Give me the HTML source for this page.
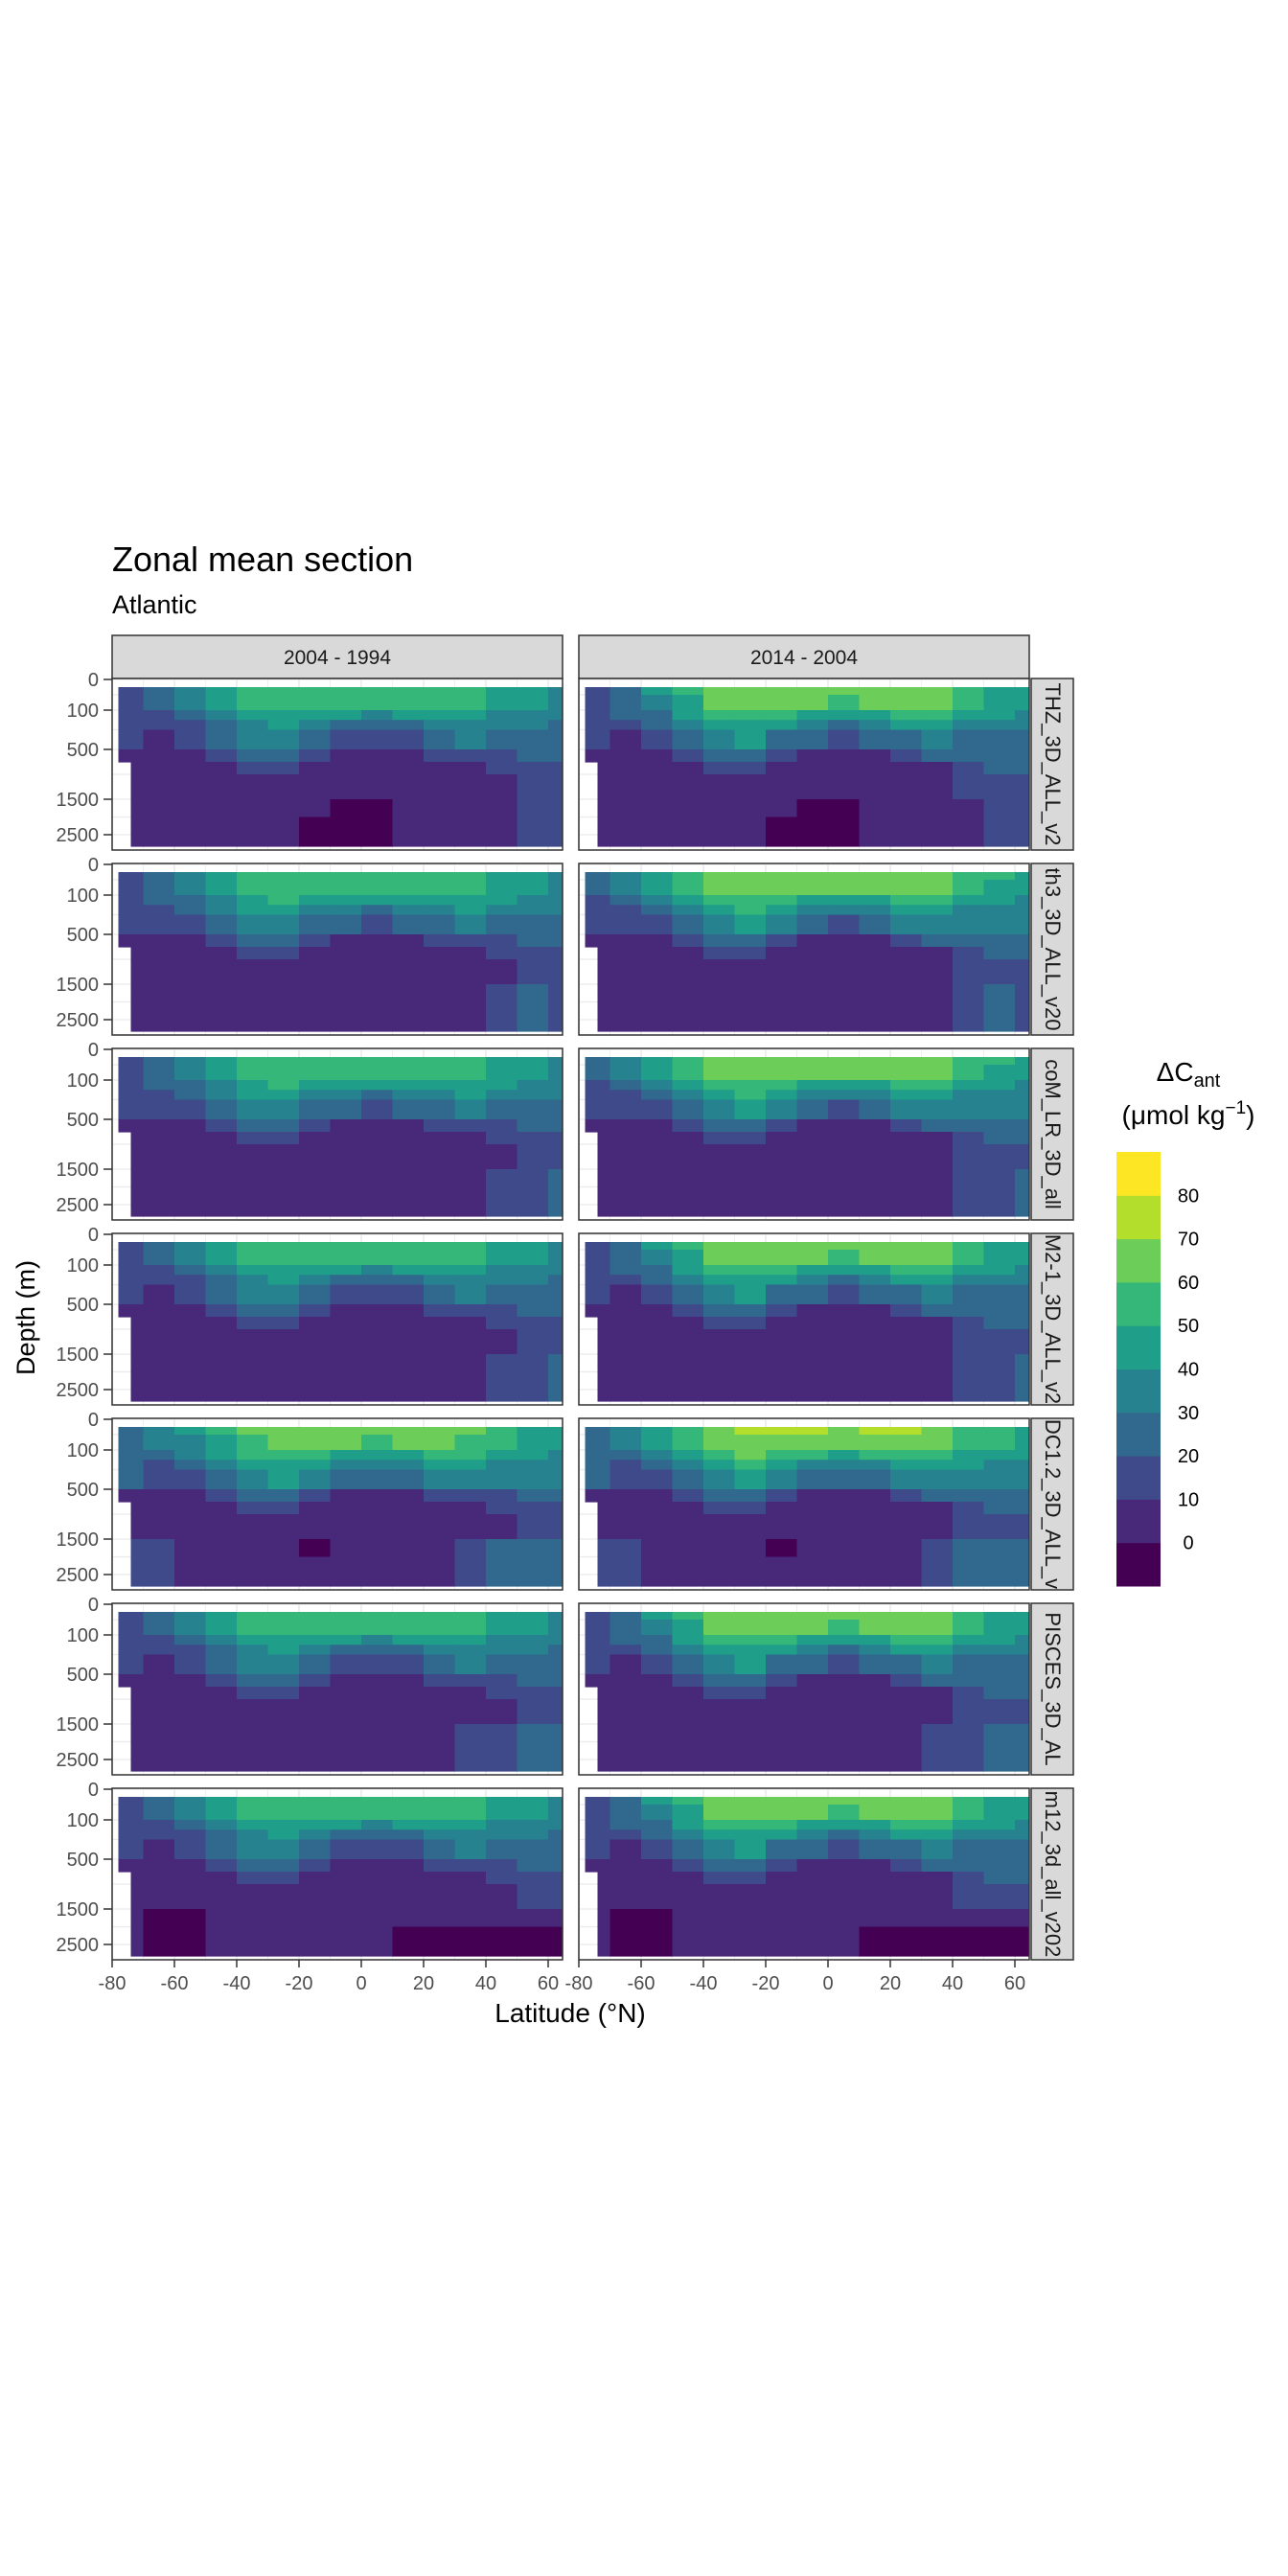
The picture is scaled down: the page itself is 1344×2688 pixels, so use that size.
<!DOCTYPE html>
<html><head><meta charset="utf-8"><style>
html,body{margin:0;padding:0;background:#fff}
svg{display:block}
text{font-family:"Liberation Sans",Arial,sans-serif}
</style></head><body>
<svg id="chart" width="1344" height="2688" viewBox="0 0 1344 2688" xmlns="http://www.w3.org/2000/svg">
<text x="117" y="596" font-size="36" fill="#000">Zonal mean section</text>
<text x="117" y="640" font-size="27" fill="#000">Atlantic</text>
<text transform="translate(36,1375) rotate(-90)" text-anchor="middle" font-size="27" fill="#000">Depth (m)</text>
<text x="595" y="2110" text-anchor="middle" font-size="28" fill="#000">Latitude (°N)</text>
<g id="panels"></g>
<g id="legend">
<text x="1240" y="1128" text-anchor="middle" font-size="28" fill="#000">ΔC<tspan font-size="20" dy="6">ant</tspan></text>
<text x="1240" y="1173" text-anchor="middle" font-size="28" fill="#000">(μmol kg<tspan font-size="19" dy="-11">−1</tspan><tspan dy="11">)</tspan></text>
</g>
</svg>
<script>
// ---- data ----
const periods = ["2004 - 1994", "2014 - 2004"];
const models = ["THZ_3D_ALL_v2", "th3_3D_ALL_v20", "coM_LR_3D_all", "M2-1_3D_ALL_v2", "DC1.2_3D_ALL_v", "PISCES_3D_AL", "m12_3d_all_v202"];
const latEdges = [-78,-70,-60,-50,-40,-30,-20,-10,0,10,20,30,40,50,60,65];
const depthEdges = [25,50,100,200,300,500,750,1000,1500,2000,2500,3000];
const levelBreaks = [0,10,20,30,40,50,60,70,80];
const levelColors = ["#440154","#482878","#3E4A89","#31688E","#26828E","#1F9E89","#35B779","#6DCD59","#B4DE2C","#FDE725"];
const legendLabels = ["80","70","60","50","40","30","20","10","0"];
const xTicks = [-80,-60,-40,-20,0,20,40,60];
const yTicks = [0,100,500,1500,2500];
const base1 = [
[15,25,35,45,55,55,55,55,55,55,55,55,45,42,35],
[15,25,32,42,52,55,55,55,52,55,55,52,45,40,35],
[15,18,25,35,45,48,45,42,38,42,45,45,38,35,32],
[15,12,18,28,38,42,35,28,25,28,35,38,32,30,28],
[15,8,12,20,30,35,25,18,15,18,25,30,25,25,25],
[8,5,8,12,22,25,15,8,7,8,12,18,18,22,22],
[5,5,5,8,12,12,8,6,5,6,7,8,12,18,18],
[5,5,5,5,7,7,6,5,5,5,5,6,9,15,15],
[5,5,5,5,5,5,4,-2,-2,5,5,5,8,12,14],
[5,5,5,5,5,5,-2,-3,-2,4,5,5,7,12,12],
[5,5,5,5,5,5,-3,-3,-3,3,5,5,6,12,12]];
const base2 = [
[18,28,40,52,62,65,65,65,62,65,65,62,52,48,40],
[18,28,38,48,60,63,62,62,58,62,63,60,52,46,40],
[16,20,28,40,52,55,50,46,42,46,52,52,44,40,36],
[15,14,20,32,44,48,40,32,28,32,40,44,36,34,32],
[15,9,14,24,34,40,28,20,16,20,28,34,28,28,28],
[9,6,9,14,25,28,17,9,8,9,14,20,20,24,24],
[6,5,6,9,14,14,9,7,6,7,8,9,14,20,20],
[5,5,5,6,8,8,7,6,5,6,6,7,11,17,17],
[5,5,5,5,6,6,4,-2,-2,5,5,6,9,14,15],
[5,5,5,5,5,5,-2,-3,-2,4,5,5,8,13,14],
[5,5,5,5,5,5,-3,-3,-3,3,5,5,7,12,13]];
const surfaceShift = [0,3,2,0,5,0,0];
const deepOverride = [
null,
[[5,5,5,5,5,5,5,5,5,5,5,8,15,22,15],[5,5,5,5,5,5,5,5,5,5,5,8,15,22,15],[5,5,5,5,5,5,5,5,5,5,5,8,15,22,15]],
[[5,5,5,5,5,5,5,5,5,5,5,8,12,18,22],[5,5,5,5,5,5,5,5,5,5,5,8,12,18,22],[5,5,5,5,5,5,5,5,5,5,5,8,12,18,22]],
[[5,5,5,5,5,5,5,5,5,5,5,5,12,15,25],[5,5,5,5,5,5,5,5,5,5,5,5,12,15,25],[5,5,5,5,5,5,5,5,5,5,5,5,12,15,25]],
[[12,12,8,5,5,5,-2,5,5,5,8,15,22,22,20],[12,12,8,5,5,5,5,5,5,5,8,15,22,22,20],[12,12,8,5,5,5,5,5,5,5,8,15,22,22,20]],
[[5,5,5,5,5,5,5,5,5,5,5,12,18,22,22],[5,5,5,5,5,5,5,5,5,5,5,12,18,22,22],[5,5,5,5,5,5,5,5,5,5,5,12,18,22,22]],
[[5,-2,-2,5,5,5,5,5,5,5,5,5,5,5,5],[5,-2,-2,3,5,5,5,5,5,-2,-2,-2,-2,-2,-2],[5,-2,-2,3,5,5,5,5,5,-2,-2,-2,-2,-2,-2]]
];
// ---- layout / scales ----
const NS = "http://www.w3.org/2000/svg";
const panelLeft = [117, 604], panelW = 470;
const rowTop0 = 708, rowPitch = 193, rowH = 179;
const depthPts = [0,100,500,1500,2500,3000], depthOff = [1,33,74,126,163,175];
function xs(p, lat){ return panelLeft[p] + (lat + 80) * 3.25; }
function ys(r, d){
  const top = rowTop0 + r*rowPitch;
  for(let i=1;i<depthPts.length;i++){
    if(d<=depthPts[i]){const t=(d-depthPts[i-1])/(depthPts[i]-depthPts[i-1]);return top+depthOff[i-1]+t*(depthOff[i]-depthOff[i-1]);}
  }
  return top+depthOff[depthOff.length-1];
}
function colorFor(v){ let k=0; for(const b of levelBreaks){ if(v>=b) k++; } return levelColors[k]; }
function mk(tag, attrs, parent){ const e=document.createElementNS(NS,tag); for(const k in attrs) e.setAttribute(k,attrs[k]); parent.appendChild(e); return e; }
const g = document.getElementById("panels");
const defs = mk("defs",{},g);
periods.forEach((p,pi)=>{
  const s = mk("rect",{x:panelLeft[pi],y:663,width:panelW,height:45,fill:"#d9d9d9",stroke:"#333","stroke-width":1.5},g);
  
  
  const t = mk("text",{x:panelLeft[pi]+panelW/2,y:693,"text-anchor":"middle","font-size":21,fill:"#1a1a1a"},g);
  t.textContent = p;
  
  
});
models.forEach((m,r)=>{
  const top = rowTop0 + r*rowPitch;
  for(let p=0;p<2;p++){
    const pg = mk("g",{},g);
    
    
    for(let lat=-80;lat<=60;lat+=10){ mk("line",{x1:xs(p,lat),x2:xs(p,lat),y1:top,y2:top+rowH,stroke:"#ebebeb","stroke-width":lat%20===0?1.6:0.8},pg); }
    [0,50,100,300,500,1000,1500,2000,2500].forEach(d=>mk("line",{x1:panelLeft[p],x2:panelLeft[p]+panelW,y1:ys(r,d),y2:ys(r,d),stroke:"#ebebeb","stroke-width":1.2},pg));
    const base = p===0?base1:base2;
    for(let i=0;i<depthEdges.length-1;i++){
      for(let j=0;j<latEdges.length-1;j++){
        let v = base[i][j];
        if(i<=4) v += surfaceShift[r];
        if(i>=8 && deepOverride[r]) v = deepOverride[r][i-8][j];
        let lat0 = latEdges[j];
        if(j===0 && depthEdges[i]>=750) lat0 = -74;
        const x0 = xs(p,lat0), x1 = Math.min(xs(p,latEdges[j+1]), panelLeft[p]+panelW-1);
        const y0 = ys(r,depthEdges[i]), y1 = ys(r,depthEdges[i+1]);
        const c = mk("rect",{x:x0,y:y0,width:x1-x0+0.6,height:y1-y0+0.6,fill:colorFor(v)},pg);
        
        
      }
    }
    const b = mk("rect",{x:panelLeft[p],y:top,width:panelW,height:rowH,fill:"none",stroke:"#333","stroke-width":1.5},pg);
    
    
  }
  yTicks.forEach(d=>{
    const y = ys(r,d);
    mk("line",{x1:108,x2:117,y1:y,y2:y,stroke:"#333","stroke-width":1.5},g);
    const t = mk("text",{x:103,y:y+7,"text-anchor":"end","font-size":20,fill:"#4d4d4d"},g);
    t.textContent = String(d);
    
    
  });
  const sr = mk("rect",{x:1076,y:top,width:44,height:rowH,fill:"#d9d9d9",stroke:"#333","stroke-width":1.5},g);
  
  
  const cp = mk("clipPath",{id:"cp"+r},defs);
  mk("rect",{x:1077,y:top+1,width:42,height:rowH-2},cp);
  const cg = mk("g",{"clip-path":`url(#cp${r})`},g);
  const st = mk("text",{transform:`translate(1091,${top+rowH/2}) rotate(90)`,"text-anchor":"middle","font-size":22,fill:"#1a1a1a"},cg);
  st.textContent = m;
  
  
});
const bottom = rowTop0 + 6*rowPitch + rowH;
for(let p=0;p<2;p++){
  xTicks.forEach(l=>{
    const x = xs(p,l);
    mk("line",{x1:x,x2:x,y1:bottom,y2:bottom+8,stroke:"#333","stroke-width":1.5},g);
    const t = mk("text",{x:x,y:bottom+31,"text-anchor":"middle","font-size":20,fill:"#4d4d4d"},g);
    t.textContent = String(l);
    
    
  });
}
const lg = document.getElementById("legend");
const barTop = 1202, blockH = 45.3;
for(let k=0;k<levelColors.length;k++){
  const c = mk("rect",{x:1165,y:barTop+(levelColors.length-1-k)*blockH,width:46,height:blockH+0.5,fill:levelColors[k]},lg);
  
  
}
legendLabels.forEach((lab,i)=>{
  const t = mk("text",{x:1240,y:barTop+(i+1)*blockH+7,"text-anchor":"middle","font-size":20,fill:"#000"},lg);
  t.textContent = lab;
  
  
});
</script>
</body></html>
